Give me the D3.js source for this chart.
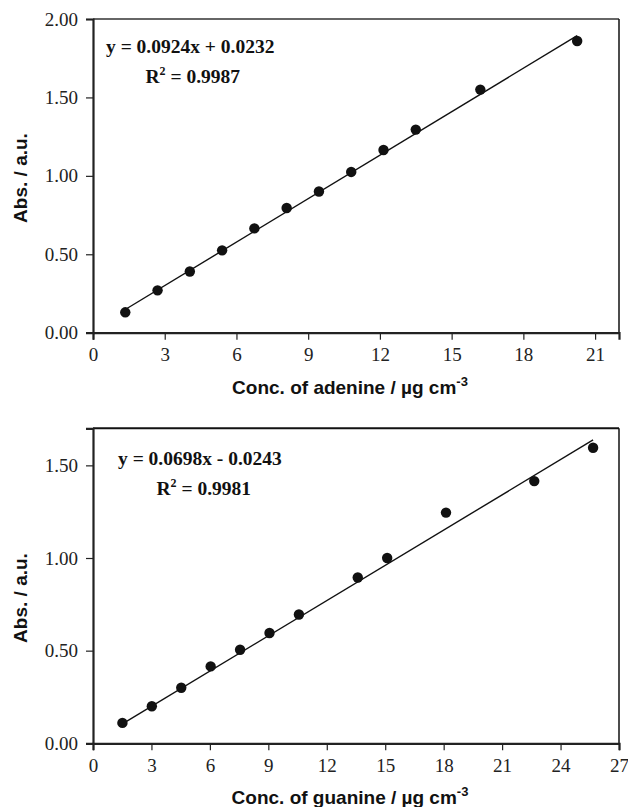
<!DOCTYPE html>
<html>
<head>
<meta charset="utf-8">
<script src="https://cdn.jsdelivr.net/npm/d3@7"></script>
<style>
  body { margin: 0; background: #fff; }
  svg { display: block; }
  .tick text { font-family: "Liberation Serif", "Times New Roman", serif; font-size: 19px; fill: #222; }
</style>
</head>
<body>
<div class="chart"></div>
<script>
//** data */
const adenineConc = [1.35, 2.70, 4.05, 5.40, 6.75, 8.10, 9.45, 10.80, 12.15, 13.50, 16.20, 20.25];
const adenineAbs  = [0.13, 0.27, 0.39, 0.525, 0.665, 0.795, 0.90, 1.025, 1.165, 1.295, 1.55, 1.86];
const adenineFitX = [1.35, 20.25];
const adenineFitY = [0.148, 1.894];

const guanineConc = [1.51, 3.02, 4.53, 6.04, 7.55, 9.06, 10.57, 13.59, 15.10, 18.12, 22.65, 25.67];
const guanineAbs  = [0.11, 0.20, 0.30, 0.415, 0.505, 0.595, 0.695, 0.895, 1.00, 1.245, 1.415, 1.595];
const guanineFitX = [1.51, 25.67];
const guanineFitY = [0.105, 1.637];

const adenineXTicks = [0, 3, 6, 9, 12, 15, 18, 21];
const adenineYTicks = [0, 0.5, 1.0, 1.5, 2.0];
const guanineXTicks = [0, 3, 6, 9, 12, 15, 18, 21, 24, 27];
const guanineYTicks = [0, 0.5, 1.0, 1.5];

const adenineEq = "y = 0.0924x + 0.0232";
const adenineR2 = "0.9987";
const guanineEq = "y = 0.0698x - 0.0243";
const guanineR2 = "0.9981";

//** d3 */
var svg = d3.select(".chart")
            .append("svg")
            .attr("width", 628)
            .attr("height", 807);

var serif = "'Liberation Serif', 'Times New Roman', serif";
var sansBold = "'Liberation Sans', Arial, sans-serif";

function drawPanel(p) {
  var x = d3.scaleLinear().domain(p.xDomain).range([p.left, p.right]);
  var y = d3.scaleLinear().domain(p.yDomain).range([p.bottom, p.top]);

  // frame: top and right
  svg.append("line")
    .attr("x1", p.left).attr("x2", p.right)
    .attr("y1", p.top).attr("y2", p.top)
    .attr("stroke", p.topColor).attr("stroke-width", 2);
  svg.append("line")
    .attr("x1", p.right).attr("x2", p.right)
    .attr("y1", p.top).attr("y2", p.bottom)
    .attr("stroke", "#111").attr("stroke-width", 1.5);

  // axes
  var xAxis = svg.append("g")
    .attr("transform", "translate(0," + p.bottom + ")")
    .call(d3.axisBottom(x).tickValues(p.xTicks).tickSize(7).tickPadding(8).tickFormat(d3.format("d")));
  var yAxis = svg.append("g")
    .attr("transform", "translate(" + p.left + ",0)")
    .call(d3.axisLeft(y).tickValues(p.yTicks).tickSize(7).tickPadding(8).tickFormat(d3.format(".2f")));

  [xAxis, yAxis].forEach(function (a) {
    a.attr("font-family", serif).attr("font-size", 19);
    a.select(".domain").attr("stroke", "#222").attr("stroke-width", 2.2);
    a.selectAll(".tick line").attr("stroke", "#222").attr("stroke-width", 1.2);
  });

  // fit line
  var fit = p.fitX.map(function (d, i) { return [d, p.fitY[i]]; });
  svg.append("path")
    .datum(fit)
    .attr("d", d3.line().x(function (d) { return x(d[0]); }).y(function (d) { return y(d[1]); }))
    .attr("stroke", "#111").attr("stroke-width", 1.4).attr("fill", "none");

  // points
  var pts = p.xs.map(function (d, i) { return [d, p.ys[i]]; });
  svg.append("g").selectAll("circle")
    .data(pts)
    .join("circle")
    .attr("cx", function (d) { return x(d[0]); })
    .attr("cy", function (d) { return y(d[1]); })
    .attr("r", 5.2)
    .attr("fill", "#111");

  // equation text
  svg.append("text")
    .attr("x", p.eqX).attr("y", p.eqY)
    .attr("font-family", serif).attr("font-weight", "bold")
    .attr("font-size", 19.5).attr("fill", "#111")
    .text(p.eq);
  var r2 = svg.append("text")
    .attr("x", p.r2X).attr("y", p.eqY + 30)
    .attr("font-family", serif).attr("font-weight", "bold")
    .attr("font-size", 19.5).attr("fill", "#111");
  r2.append("tspan").text("R");
  r2.append("tspan").attr("dy", -8).attr("font-size", 12).text("2");
  r2.append("tspan").attr("dy", 8).text(" = " + p.r2);

  // axis titles
  var xt = svg.append("text")
    .attr("x", (p.left + p.right) / 2 - 6)
    .attr("y", p.bottom + 61)
    .attr("text-anchor", "middle")
    .attr("font-family", sansBold).attr("font-weight", "bold")
    .attr("font-size", 19).attr("fill", "#111");
  xt.append("tspan").text(p.xTitle);
  xt.append("tspan").attr("dy", -8).attr("font-size", 13).text("-3");

  svg.append("text")
    .attr("transform", "translate(27," + p.yTitleY + ") rotate(-90)")
    .attr("text-anchor", "middle")
    .attr("font-family", sansBold).attr("font-weight", "bold")
    .attr("font-size", 19).attr("fill", "#111")
    .text("Abs. / a.u.");
}

drawPanel({
  left: 93, right: 619, top: 19, bottom: 332.7,
  xDomain: [0, 22], yDomain: [0, 2],
  xTicks: adenineXTicks, yTicks: adenineYTicks,
  xs: adenineConc, ys: adenineAbs,
  fitX: adenineFitX, fitY: adenineFitY,
  eq: adenineEq, r2: adenineR2, eqX: 106, eqY: 53, r2X: 145.5,
  xTitle: "Conc. of adenine / µg cm",
  yTitleY: 178,
  topColor: "#666"
});

drawPanel({
  left: 93, right: 619, top: 428.3, bottom: 743.3,
  xDomain: [0, 27], yDomain: [0, 1.7],
  xTicks: guanineXTicks, yTicks: guanineYTicks,
  xs: guanineConc, ys: guanineAbs,
  fitX: guanineFitX, fitY: guanineFitY,
  eq: guanineEq, r2: guanineR2, eqX: 118, eqY: 465, r2X: 156.5,
  xTitle: "Conc. of guanine / µg cm",
  yTitleY: 598,
  topColor: "#111"
});
</script>
</body>
</html>
